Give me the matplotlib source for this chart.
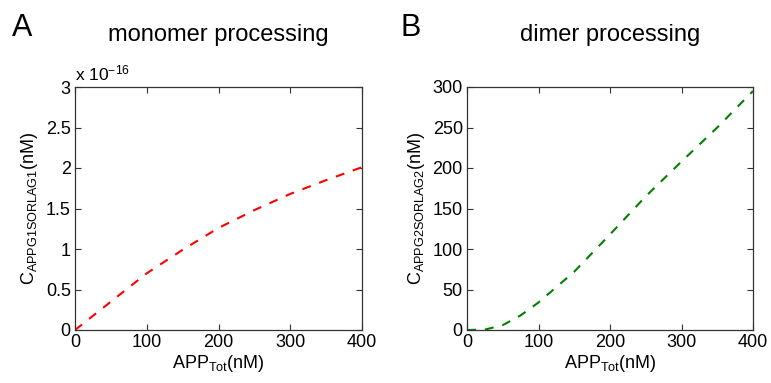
import numpy as np
import matplotlib
matplotlib.use('Agg')
import matplotlib.pyplot as plt

plt.rcParams['font.family'] = ['Liberation Sans', 'DejaVu Sans']
plt.rcParams['mathtext.fontset'] = 'custom'
plt.rcParams['mathtext.rm'] = 'Liberation Sans'
plt.rcParams['mathtext.it'] = 'Liberation Sans:italic'
plt.rcParams['mathtext.bf'] = 'Liberation Sans:bold'

app_mono = [0, 50, 100, 150, 200, 250, 300, 350, 400]
c_mono = np.array([0, 0.35, 0.70, 0.99, 1.26, 1.48, 1.68, 1.85, 2.01]) * 1e-16

app_dimer = [0, 25, 50, 75, 100, 150, 200, 250, 300, 350, 400]
c_dimer = [0, 0.5, 6, 18, 34, 72, 118, 165, 208, 250, 295]

xticks = [0, 100, 200, 300, 400]
mono_yticks = [0, 0.5, 1, 1.5, 2, 2.5, 3]
mono_yticklabels = ['0', '0.5', '1', '1.5', '2', '2.5', '3']
dimer_yticks = [0, 50, 100, 150, 200, 250, 300]

W, H = 771, 383
fig = plt.figure(figsize=(W / 100, H / 100), dpi=100)
axA = fig.add_axes([75 / W, 1 - 330 / H, 287 / W, 243 / H])
axB = fig.add_axes([467 / W, 1 - 330 / H, 286 / W, 243 / H])

edge = '#333333'
dash = (0, (4.3, 4.3))
for ax in (axA, axB):
    for s in ax.spines.values():
        s.set_color(edge)
        s.set_linewidth(0.9)
    ax.tick_params(direction='in', top=True, right=True, length=4, width=0.8,
                   color=edge, labelsize=13, pad=3)
    ax.set_xlim(0, 400)
    ax.set_xticks(xticks)
    ax.set_xticklabels([str(t) for t in xticks])
    ax.set_xlabel(r'APP$_{\mathrm{Tot}}$(nM)', fontsize=13, labelpad=1)

# monomer
axA.plot(app_mono, c_mono / 1e-16, color='#ff0000', ls=dash, lw=1.5)
axA.set_ylim(0, 3)
axA.set_yticks(mono_yticks)
axA.set_yticklabels(mono_yticklabels)
axA.set_ylabel(r'C$_{\mathrm{APPG1SORLAG1}}$(nM)', fontsize=13, labelpad=4)
axA.text(0.0, 1.015, r'x 10$^{-16}$', transform=axA.transAxes, fontsize=12.5,
         ha='left', va='bottom')
axA.set_title('monomer processing', fontsize=17, pad=33)
fig.text(12 / W, 1 - 36 / H, 'A', fontsize=22, ha='left', va='baseline')

# dimer
axB.plot(app_dimer, c_dimer, color='#008000', ls=dash, lw=1.5)
axB.set_ylim(0, 300)
axB.set_yticks(dimer_yticks)
axB.set_ylabel(r'C$_{\mathrm{APPG2SORLAG2}}$(nM)', fontsize=13, labelpad=4)
axB.set_title('dimer processing', fontsize=17, pad=33)
fig.text(400 / W, 1 - 36 / H, 'B', fontsize=22, ha='left', va='baseline')

fig.savefig('out.png', dpi=100)
